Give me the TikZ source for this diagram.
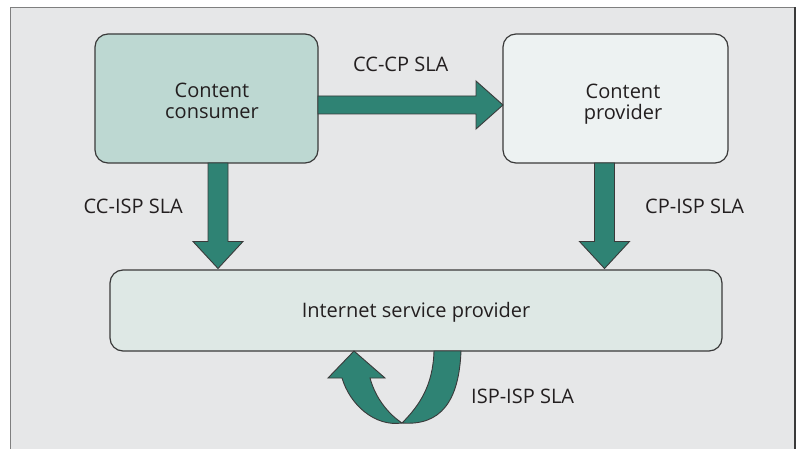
\documentclass[tikz,border=0pt]{standalone}
\usepackage{fontspec}
\setmainfont{Open Sans}
\usetikzlibrary{calc}

\definecolor{panelbg}{HTML}{E6E7E8}
\definecolor{framegray}{HTML}{7F7F7F}
\definecolor{ccfill}{HTML}{BDD8D2}
\definecolor{cpfill}{HTML}{EDF2F2}
\definecolor{ispfill}{HTML}{DEE8E5}
\definecolor{slateal}{HTML}{2F8374}
\definecolor{edgegray}{HTML}{3A3A3A}
\definecolor{inkgray}{HTML}{231F20}

\tikzset{
  party/.style={draw=edgegray, line width=1.2pt, rounded corners=13pt,
    inner sep=0pt, outer sep=0pt},
  blk/.style={fill=slateal, draw=edgegray, line width=0.9pt, line join=miter},
  lbl/.style={inner sep=0pt, text=inkgray, font=\fontsize{20}{21}\selectfont},
}

% block arrow pointing down from #1 to tip #2
\newcommand\downblock[2]{%
  \draw[blk] ($(#1)+(-10,0)$) -- ($(#2)+(-10,-27)$) -- ($(#2)+(-25,-27)$)
    -- (#2) -- ($(#2)+(25,-27)$) -- ($(#2)+(10,-27)$) -- ($(#1)+(10,0)$) -- cycle;}

\begin{document}
\begin{tikzpicture}[x=1pt,y=-1pt]
\useasboundingbox (0,0) rectangle (797,449);
\fill[white] (0,0) rectangle (797,449);

% panel
\fill[panelbg] (10.5,7.5) rectangle (795,449);
\draw[framegray, line width=1.5pt] (10.5,449) -- (10.5,7.5) -- (795,7.5);
\draw[edgegray, line width=1.8pt] (795,7.5) -- (795,449);

% parties
\node[party, fill=ccfill, minimum width=223pt, minimum height=129pt] (cc) at (206.5,98.5) {};
\node[party, fill=cpfill, minimum width=225pt, minimum height=129pt] (cp) at (615.5,98.5) {};
\node[party, fill=ispfill, minimum width=612pt, minimum height=81pt] (isp) at (416,310.5) {};

\node[lbl, align=center] (cctext) at (212,101.3) {Content\\consumer};
\node[lbl, align=center] (cptext) at (623,103.7) {Content\\provider};
\node[lbl, anchor=base] (isptext) at (416,317) {Internet service provider};

% CC -> CP
\draw[blk] ($(cc.east)+(0,-2.5)$) -- ($(cp.west)+(-27,-2.5)$) -- ($(cp.west)+(-27,-17.5)$)
  -- ($(cp.west)+(0,6.5)$) -- ($(cp.west)+(-27,30.5)$) -- ($(cp.west)+(-27,15.5)$)
  -- ($(cc.east)+(0,15.5)$) -- cycle;

% CC -> ISP and CP -> ISP
\coordinate (t1) at ($(cc.south)+(11.5,0)$);
\coordinate (h1) at ($(t1 |- isp.north)+(0,-1.5)$);
\downblock{t1}{h1}
\coordinate (t2) at ($(cp.south)+(-11,0)$);
\coordinate (h2) at ($(t2 |- isp.north)+(0,-1.5)$);
\downblock{t2}{h2}

% ISP -> ISP loop
\begin{scope}[shift={(isp.south)}]
  \draw[blk] (18,0) -- (45,0) .. controls (43,50) and (25,75) .. (-14,72)
    .. controls (4,54) and (17,34) .. (18,0) -- cycle;
  \draw[blk] (-14,72) .. controls (-41,76) and (-66,54) .. (-74,27)
    -- (-88,27) -- (-62,0) -- (-31,27) -- (-46,27)
    .. controls (-40,49) and (-26,64) .. (-14,72) -- cycle;
\end{scope}

% agreement labels
\node[lbl, anchor=base west] (lccp) at (353,72) {CC-CP SLA};
\node[lbl, anchor=base east] (lccisp) at (183,213) {CC-ISP SLA};
\node[lbl, anchor=base west] (lcpisp) at (645,213) {CP-ISP SLA};
\node[lbl, anchor=base west] (lispisp) at (471,403) {ISP-ISP SLA};
\end{tikzpicture}
\end{document}
